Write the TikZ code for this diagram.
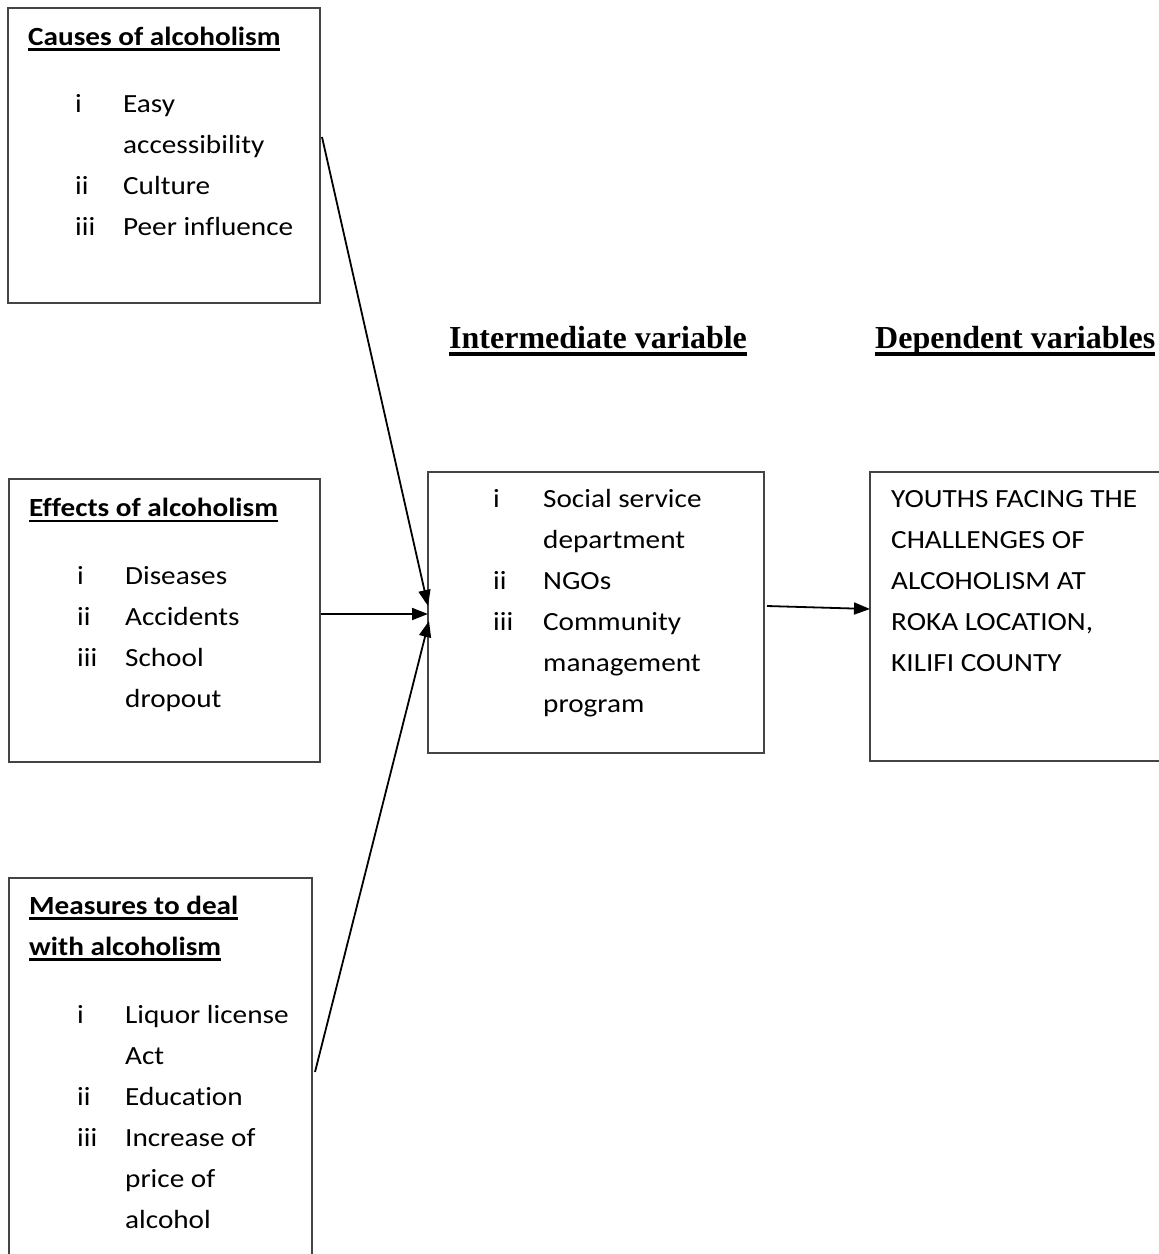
\documentclass[tikz,border=0pt]{standalone}
\usepackage{fontspec}
\setmainfont[FakeStretch=1.115,Ligatures={NoCommon}]{Carlito}
\newfontfamily\hdrfont{Liberation Serif}
\usetikzlibrary{arrows.meta,calc}
\definecolor{boxgray}{RGB}{68,68,68}
\newcommand\ulA[1]{\setbox0=\hbox{#1}\rlap{\rule[-5.6pt]{\wd0}{2.2pt}}\box0}
\newcommand\ulB[1]{\setbox0=\hbox{#1}\rlap{\rule[-7.5pt]{\wd0}{3.4pt}}\box0}
\tikzset{
  box/.style={draw=boxgray, line width=2pt, anchor=north west, inner sep=0pt},
  txt/.style={anchor=base west, inner sep=0pt, font=\fontsize{26.2}{41}\selectfont},
  hdr/.style={anchor=base west, inner sep=0pt, font=\fontsize{26.2}{41}\selectfont\bfseries},
  shdr/.style={anchor=base west, inner sep=0pt, font=\fontsize{32}{36}\selectfont\hdrfont\bfseries},
  conn/.style={draw=black, line width=1.8pt, -{Triangle[length=16pt,width=12pt]}}
}
\begin{document}
\begin{tikzpicture}[x=1pt,y=-1pt]
\clip (0,0) rectangle (1159,1254);
% boxes
\node[box, minimum width=312pt, minimum height=295pt] (causes) at (7,7) {};
\node[box, minimum width=311pt, minimum height=283pt] (effects) at (8,478) {};
\node[box, minimum width=303pt, minimum height=400pt] (measures) at (8,877) {};
\node[box, minimum width=336pt, minimum height=281pt] (inter) at (427,471) {};
\node[box, minimum width=310pt, minimum height=289pt] (dep) at (869,471) {};
% headers inside boxes
\node[hdr] (causesHd) at (28,45) {\ulA{Causes of alcoholism}};
\node[hdr] (effectsHd) at (29,516.5) {\ulA{Effects of alcoholism}};
\node[hdr] (measuresHd) at (29,914) {\begin{tabular}[t]{@{}l@{}}\ulA{Measures to deal}\\\ulA{with alcoholism}\end{tabular}};
% lists
\node[txt] (causesList) at (75,112.7) {\begin{tabular}[t]{@{}p{48pt}@{}l@{}}
i & Easy\\ & accessibility\\ ii & Culture\\ iii & Peer influence\end{tabular}};
\node[txt] (effectsList) at (77,584) {\begin{tabular}[t]{@{}p{48pt}@{}l@{}}
i & Diseases\\ ii & Accidents\\ iii & School\\ & dropout\end{tabular}};
\node[txt] (measuresList) at (77,1023) {\begin{tabular}[t]{@{}p{48pt}@{}l@{}}
i & Liquor license\\ & Act\\ ii & Education\\ iii & Increase of\\ & price of\\ & alcohol\end{tabular}};
\node[txt] (interList) at (493,507) {\begin{tabular}[t]{@{}p{50pt}@{}l@{}}
i & Social service\\ & department\\ ii & NGOs\\ iii & Community\\ & management\\ & program\end{tabular}};
\node[txt] (depText) at (891,507) {\begin{tabular}[t]{@{}l@{}}
YOUTHS FACING THE\\ CHALLENGES OF\\ ALCOHOLISM AT\\ ROKA LOCATION,\\ KILIFI COUNTY\end{tabular}};
% column headers
\node[shdr] (interHd) at (449,348.3) {\ulB{Intermediate variable}};
\node[shdr] (depHd) at (875,348.3) {\ulB{Dependent variables}};
% connector coordinates
\coordinate (c1) at ($(causes.north east)+(1,130)$);
\coordinate (c2) at ($(effects.north west)+(313,136)$);
\coordinate (c3) at ($(measures.north east)+(2,195)$);
\coordinate (t1) at ($(inter.north west)+(1,135)$);
\coordinate (t2) at ($(inter.north west)+(1,143)$);
\coordinate (t3) at ($(inter.north west)+(2,150)$);
\coordinate (c4) at ($(inter.north east)+(2,135)$);
\coordinate (t4) at ($(dep.north west)+(1,138)$);
\draw[conn] (c1) -- (t1);
\draw[conn] (c2) -- (t2);
\draw[conn] (c3) -- (t3);
\draw[conn] (c4) -- (t4);
\end{tikzpicture}
\end{document}
